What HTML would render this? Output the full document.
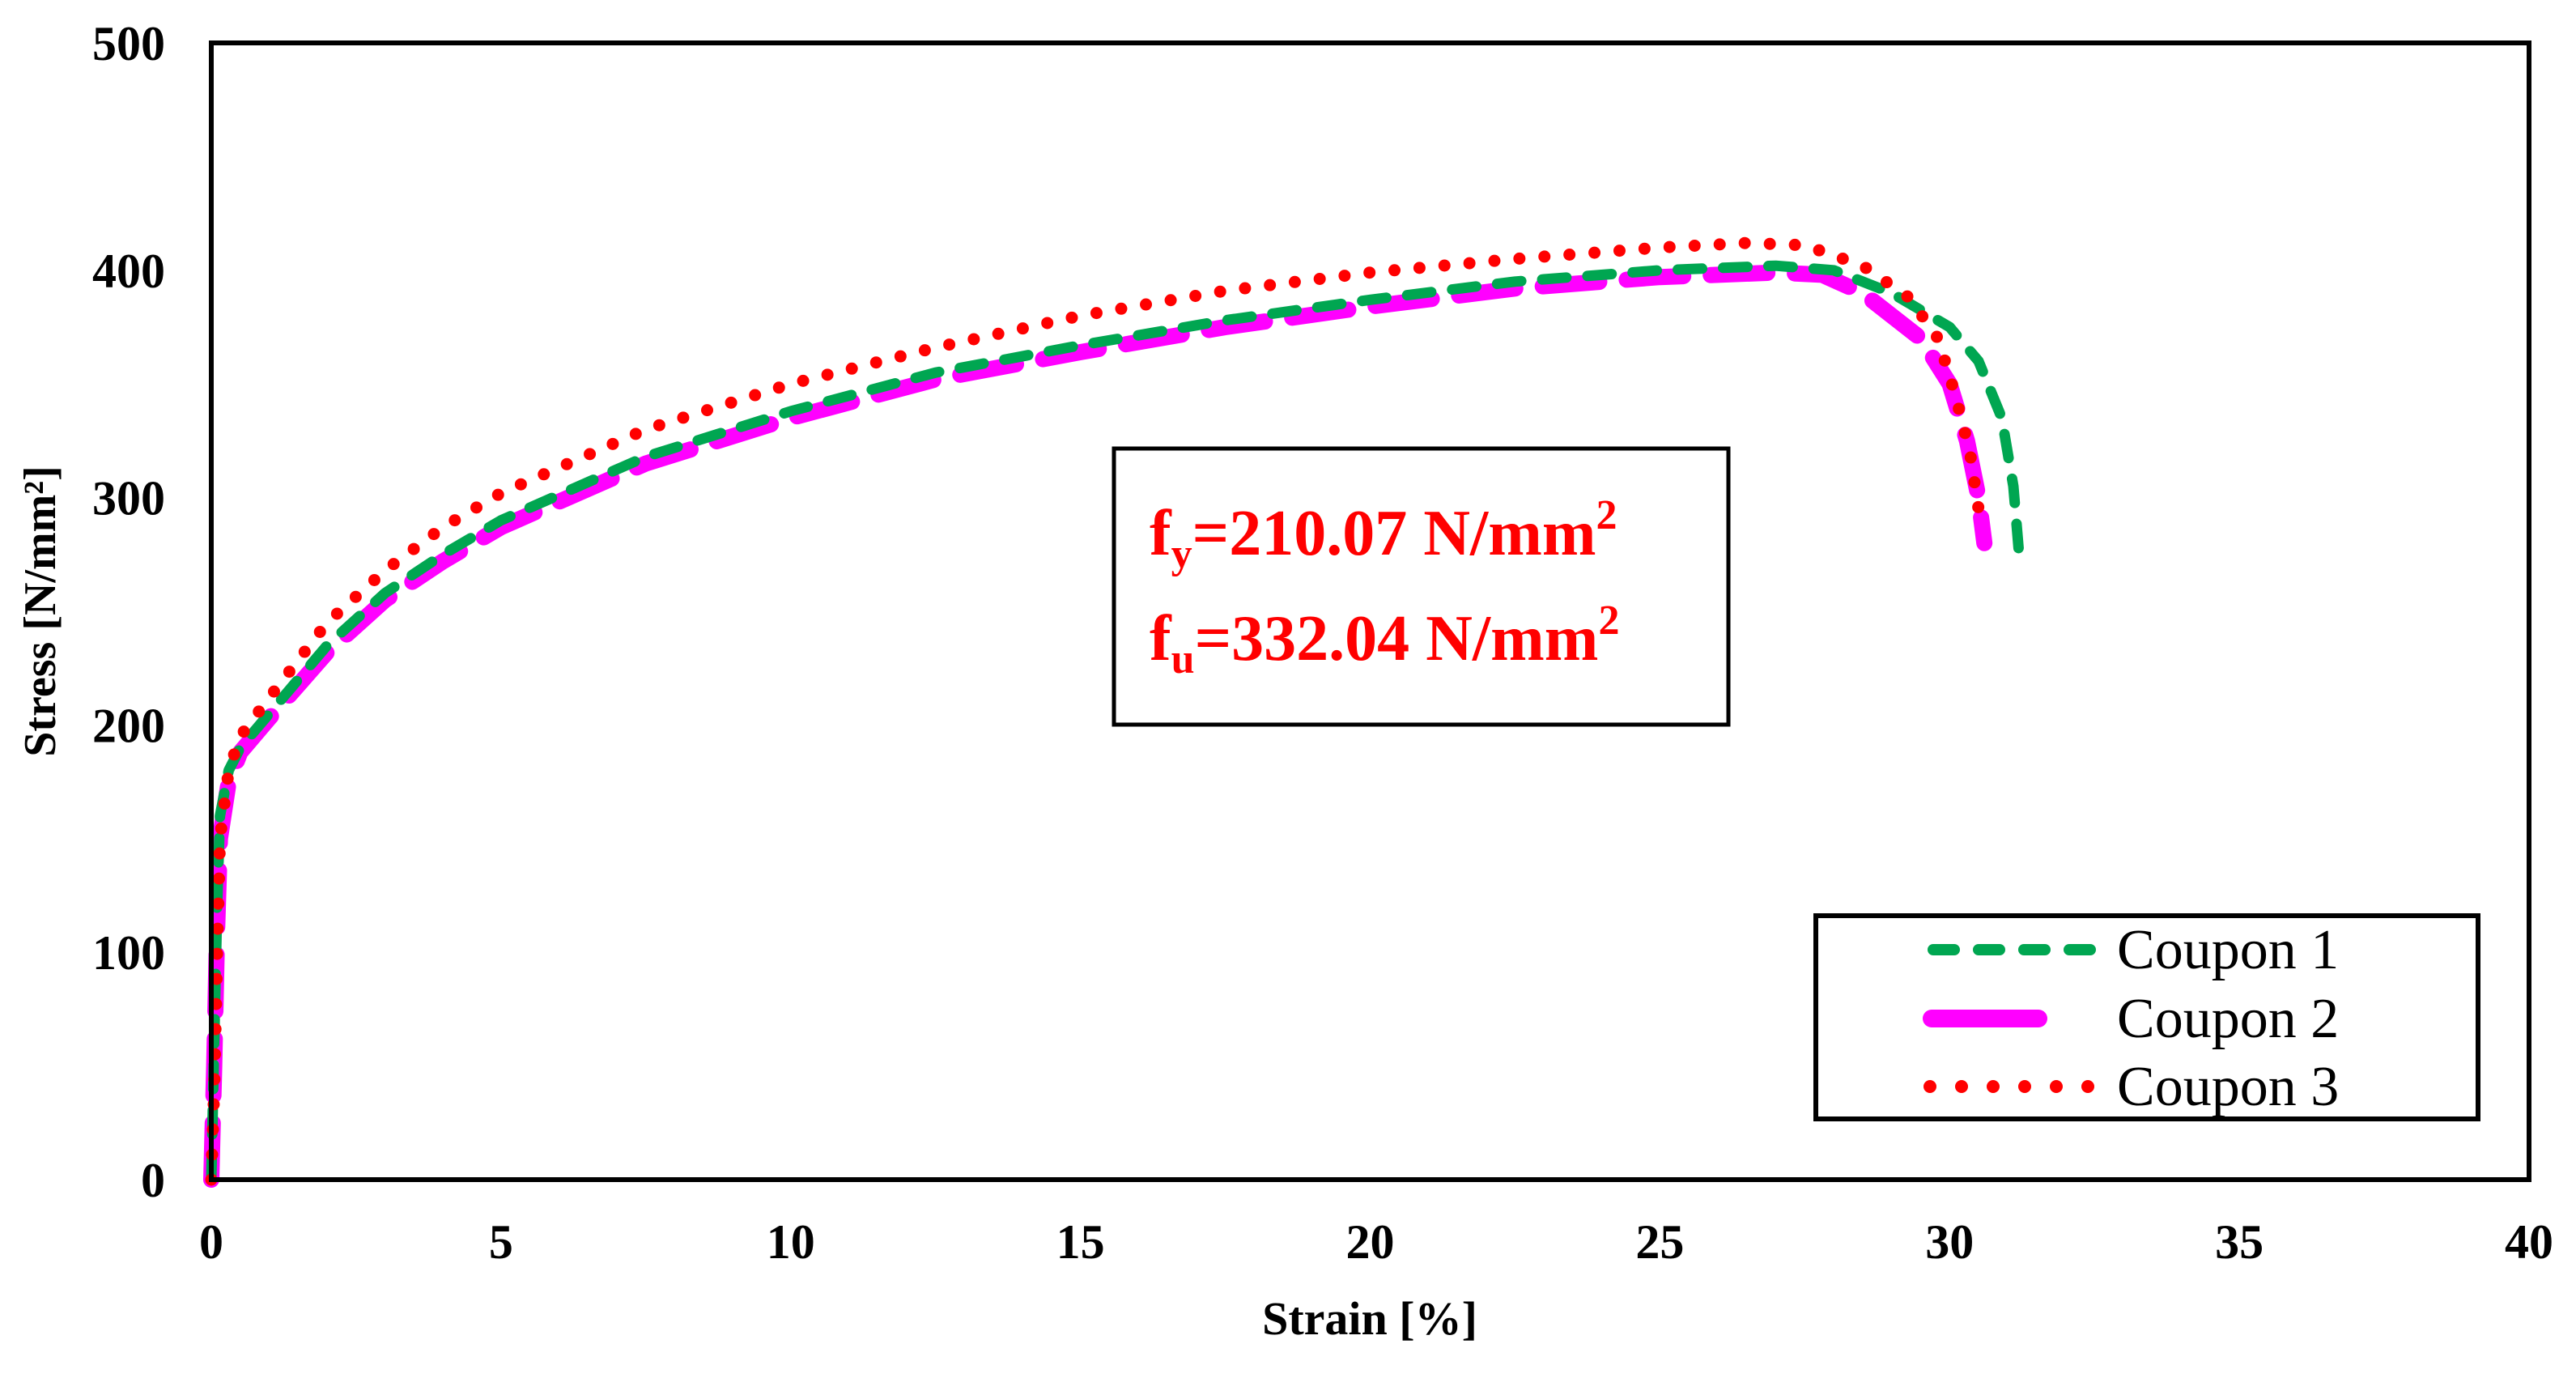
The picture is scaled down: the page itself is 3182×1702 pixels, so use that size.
<!DOCTYPE html>
<html><head><meta charset="utf-8"><style>
html,body{margin:0;padding:0;background:#fff;}
svg{display:block;}
text{font-family:"Liberation Serif",serif;}
</style></head><body>
<svg id="chart" width="3182" height="1702" viewBox="0 0 3182 1702">
<rect x="0" y="0" width="3182" height="1702" fill="#fff"/>
<g id="series"></g>
<rect x="261" y="53" width="2863" height="1404" fill="none" stroke="#000" stroke-width="6"/>
<g id="yticks"></g>
<g id="xticks"></g>
<text x="1692" y="1648" text-anchor="middle" font-weight="bold" font-size="58">Strain [%]</text>
<text transform="translate(68,755) rotate(-90)" text-anchor="middle" font-weight="bold" font-size="56">Stress [N/mm²]</text>
<g>
<rect x="1376" y="554" width="759" height="341" fill="#fff" stroke="#000" stroke-width="5"/>
<text x="1420" y="685" fill="#f00" font-weight="bold" font-size="80">f<tspan font-size="52" dy="16">y</tspan><tspan dy="-16">=210.07 N/mm</tspan><tspan font-size="52" dy="-32">2</tspan></text>
<text x="1420" y="815" fill="#f00" font-weight="bold" font-size="80">f<tspan font-size="52" dy="16">u</tspan><tspan dy="-16">=332.04 N/mm</tspan><tspan font-size="52" dy="-32">2</tspan></text>
</g>
<g>
<rect x="2243" y="1131" width="818" height="251" fill="#fff" stroke="#000" stroke-width="6"/>
<line x1="2388" y1="1173" x2="2582" y2="1173" stroke="#00a651" stroke-width="14" stroke-linecap="round" stroke-dasharray="26 30"/>
<text x="2615" y="1196" font-size="70">Coupon 1</text>
<line x1="2386" y1="1258" x2="2518" y2="1258" stroke="#ff00ff" stroke-width="22" stroke-linecap="round"/>
<text x="2615" y="1281" font-size="70">Coupon 2</text>
<line x1="2384" y1="1342" x2="2588" y2="1342" stroke="#ff0000" stroke-width="16" stroke-linecap="round" stroke-dasharray="0 39"/>
<text x="2615" y="1365" font-size="70">Coupon 3</text>
</g>
</svg>
<script>
const xTicks=[0,5,10,15,20,25,30,35,40];
const yTicks=[0,100,200,300,400,500];
const c1Strain=[0,0.05,0.1,0.15,0.3,0.5,1,2,3,4,5,7.5,10,12.5,15,17.5,20,22.5,25,27,28,29,30,30.5,30.9,31.1,31.2];
const c1Stress=[0,60,120,160,180,190,205,235,258,275,290,318,338,355,367,378,387,395,400,402,400,390,375,360,335,305,275];
const c2Strain=[0,0.05,0.1,0.15,0.3,0.5,1,2,3,4,5,7.5,10,12.5,15,17.5,20,22.5,25,27,27.8,28.5,29.5,30,30.3,30.5,30.6];
const c2Stress=[0,50,110,150,175,188,203,232,255,272,287,315,335,352,364,375,384,392,397,399,398,390,370,350,325,300,280];
const c3Strain=[0,0.05,0.1,0.15,0.3,0.5,1,2,3,4,5,7.5,10,12.5,15,17.5,20,22.5,25,26.5,27.5,28.5,29.3,29.8,30.1,30.35,30.5];
const c3Stress=[0,40,100,150,180,195,212,245,268,287,302,330,350,366,380,391,399,405,410,412,411,402,388,370,345,320,295];
const X0=261,X1=3124,Y0=1457,Y1=53;
function sx(v){return X0+(v-0)/(40-0)*(X1-X0);}
function sy(v){return Y0-(v-0)/(500-0)*(Y0-Y1);}
const NS="http://www.w3.org/2000/svg";
const yg=document.getElementById('yticks');
yTicks.forEach(v=>{const t=document.createElementNS(NS,'text');
t.setAttribute('x',204);t.setAttribute('y',sy(v)+21);t.setAttribute('text-anchor','end');
t.setAttribute('font-weight','bold');t.setAttribute('font-size','60');t.textContent=v;


yg.appendChild(t);});
const xg=document.getElementById('xticks');
xTicks.forEach(v=>{const t=document.createElementNS(NS,'text');
t.setAttribute('x',sx(v));t.setAttribute('y',1554);t.setAttribute('text-anchor','middle');
t.setAttribute('font-weight','bold');t.setAttribute('font-size','60');t.textContent=v;


xg.appendChild(t);});
const sg=document.getElementById('series');
function draw(xs,ys,color,w,dash,name){
 const p=document.createElementNS(NS,'polyline');
 p.setAttribute('points',xs.map((x,i)=>sx(x).toFixed(1)+','+sy(ys[i]).toFixed(1)).join(' '));
 p.setAttribute('fill','none');p.setAttribute('stroke',color);p.setAttribute('stroke-width',w);
 p.setAttribute('stroke-linecap','round');p.setAttribute('stroke-linejoin','round');
 if(dash)p.setAttribute('stroke-dasharray',dash);
 
 
 sg.appendChild(p);}
draw(c2Strain,c2Stress,'#ff00ff',20,'70 34','coupon-2-line');
draw(c1Strain,c1Stress,'#00a651',13,'30 26','coupon-1-line');
draw(c3Strain,c3Stress,'#ff0000',15,'0 31','coupon-3-line');
</script>
</body></html>
